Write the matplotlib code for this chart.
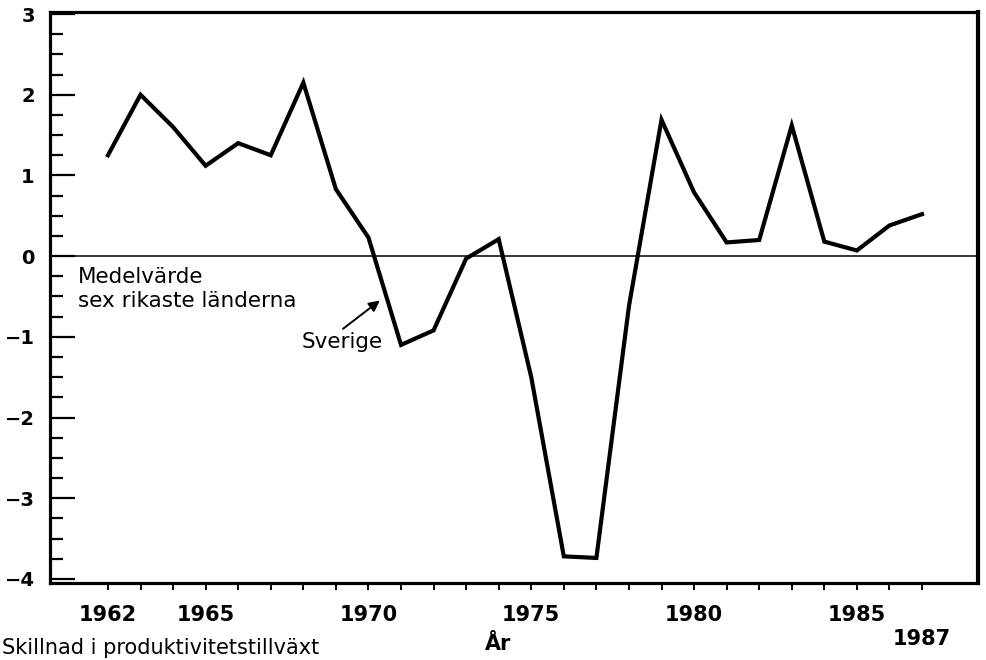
import matplotlib
matplotlib.use("Agg")
import matplotlib.pyplot as plt
from matplotlib.ticker import MultipleLocator, FixedLocator
from matplotlib.transforms import blended_transform_factory

# Skillnad i produktivitetstillväxt, Sverige mot medelvärde för sex rikaste länderna
years = [1962, 1963, 1964, 1965, 1966, 1967, 1968, 1969, 1970, 1971, 1972, 1973,
         1974, 1975, 1976, 1977, 1978, 1979, 1980, 1981, 1982, 1983, 1984, 1985,
         1986, 1987]
sverige = [1.25, 2.0, 1.6, 1.12, 1.4, 1.25, 2.15, 0.83, 0.23, -1.1, -0.92, -0.03,
           0.21, -1.5, -3.72, -3.74, -0.62, 1.69, 0.79, 0.17, 0.2, 1.62, 0.18, 0.07,
           0.38, 0.52]

year_labels = [1962, 1965, 1970, 1975, 1980, 1985]
last_year_label = 1987
y_ticks = [3, 2, 1, 0, -1, -2, -3, -4]

plt.rcParams["font.family"] = ["DejaVu Sans"]

fig = plt.figure(figsize=(9.86, 6.6), dpi=100)
ax = fig.add_axes([0.0507, 0.1167, 0.9412, 0.8651])

ax.plot(years, sverige, color="black", linewidth=3.0, solid_joinstyle="miter")
ax.axhline(0, color="black", linewidth=1.1)

ax.set_xlim(1960.22, 1988.72)
ax.set_ylim(-4.05, 3.025)

for side in ["left", "bottom", "top"]:
    ax.spines[side].set_linewidth(2.3)
ax.spines["right"].set_linewidth(3.0)

# y: ticks inwards, minor every 0.25
ax.yaxis.set_major_locator(FixedLocator(y_ticks))
ax.yaxis.set_minor_locator(MultipleLocator(0.25))
ax.tick_params(axis="y", which="major", direction="in", length=18, width=1.6,
               pad=11, labelsize=14)
ax.tick_params(axis="y", which="minor", direction="in", length=9, width=1.6)
for lab in ax.get_yticklabels():
    lab.set_fontweight("bold")

# x: every year ticked, only a few labelled
ax.xaxis.set_major_locator(FixedLocator(years))
ax.set_xticklabels([str(y) if y in year_labels else "" for y in years])
ax.tick_params(axis="x", which="major", direction="out", length=5, width=1.4,
               pad=11, labelsize=15)
for lab in ax.get_xticklabels():
    lab.set_fontweight("bold")

trans = blended_transform_factory(ax.transData, fig.transFigure)
ax.text(last_year_label, 1 - 639 / 660, str(last_year_label), transform=trans,
        ha="center", va="center", fontsize=15, fontweight="bold")

fig.text(485 / 986, 1 - 644 / 660, "År", ha="left", va="center", fontsize=15,
         fontweight="bold")
fig.text(2 / 986, 2 / 660, "Skillnad i produktivitetstillväxt",
         ha="left", va="bottom", fontsize=15)

ax.text(1961.08, -0.14, "Medelvärde\nsex rikaste länderna", ha="left",
        va="top", fontsize=15.5, linespacing=1.2)
ax.text(1969.2, -1.06, "Sverige", ha="center", va="center", fontsize=15.5)
ax.annotate("", xy=(1970.35, -0.55), xytext=(1969.22, -0.9),
            arrowprops=dict(arrowstyle="-|>", color="black", lw=1.4,
                            mutation_scale=16, shrinkA=0, shrinkB=0))

fig.savefig("out.png", dpi=100)
